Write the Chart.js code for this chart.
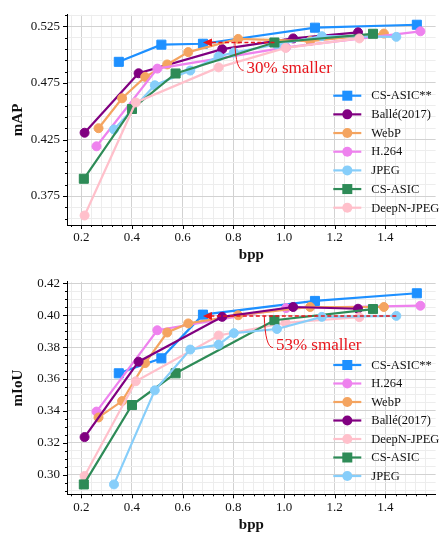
<!DOCTYPE html>
<html><head><meta charset="utf-8">
<script src="https://cdn.jsdelivr.net/npm/chart.js@4.4.0/dist/chart.umd.min.js"></script>
<style>
html,body{margin:0;padding:0;background:#fff;}
canvas{display:block;}
</style></head><body>
<canvas id="c1" width="443" height="267"></canvas>
<canvas id="c2" width="443" height="267"></canvas>
<script>
// ---------- data ----------
const FONT = '"Liberation Serif", "DejaVu Serif", serif';

// shared bpp values
const bppCsAsicStar = [0.348, 0.516, 0.680, 1.122, 1.524];
const bppBalle      = [0.213, 0.426, 0.756, 1.036, 1.292];
const bppWebp       = [0.268, 0.361, 0.452, 0.539, 0.622, 0.819, 1.103, 1.394];
const bppH264       = [0.260, 0.500, 1.008, 1.538];
const bppJpeg       = [0.329, 0.490, 0.630, 0.742, 0.802, 0.972, 1.149, 1.443];
const bppCsAsic     = [0.210, 0.400, 0.572, 0.962, 1.351];
const bppDeepN      = [0.213, 0.415, 0.742, 1.006, 1.297];

// top panel: mAP
const mapCsAsicStar = [0.4937, 0.5089, 0.5097, 0.5239, 0.5265];
const mapBalle      = [0.4310, 0.4836, 0.5049, 0.5144, 0.5198];
const mapWebp       = [0.4350, 0.4615, 0.4804, 0.4914, 0.5023, 0.5140, 0.5121, 0.5187];
const mapH264       = [0.4190, 0.4877, 0.5065, 0.5207];
const mapJpeg       = [0.4339, 0.4730, 0.4860, 0.4985, 0.5020, 0.5090, 0.5164, 0.5158];
const mapCsAsic     = [0.3903, 0.4520, 0.4834, 0.5108, 0.5185];
const mapDeepN      = [0.3578, 0.4578, 0.4888, 0.5060, 0.5144];

// bottom panel: mIoU
const miouCsAsicStar = [0.3636, 0.3730, 0.4004, 0.4090, 0.4138];
const miouBalle      = [0.3236, 0.3709, 0.3990, 0.4052, 0.4041];
const miouWebp       = [0.3359, 0.3462, 0.3700, 0.3892, 0.3949, 0.4000, 0.4052, 0.4052];
const miouH264       = [0.3396, 0.3906, 0.4045, 0.4060];
const miouJpeg       = [0.2939, 0.3529, 0.3785, 0.3816, 0.3888, 0.3914, 0.3990, 0.3996];
const miouCsAsic     = [0.2939, 0.3437, 0.3636, 0.3969, 0.4039];
const miouDeepN      = [0.2992, 0.3586, 0.3873, 0.3953, 0.3988];

const names = {
  star: 'CS-ASIC**', balle: 'Ballé(2017)', webp: 'WebP', h264: 'H.264',
  jpeg: 'JPEG', csasic: 'CS-ASIC', deepn: 'DeepN-JPEG'
};
const colors = {
  star: '#1E90FF', balle: '#800080', webp: '#F4A460', h264: '#EE82EE',
  jpeg: '#87CEFA', csasic: '#2E8B57', deepn: '#FFC0CB'
};
const markers = { star: 'rect', csasic: 'rect' };

const topSeries = [
  ['star', bppCsAsicStar, mapCsAsicStar],
  ['balle', bppBalle, mapBalle],
  ['webp', bppWebp, mapWebp],
  ['h264', bppH264, mapH264],
  ['jpeg', bppJpeg, mapJpeg],
  ['csasic', bppCsAsic, mapCsAsic],
  ['deepn', bppDeepN, mapDeepN]
];
const bottomSeries = [
  ['star', bppCsAsicStar, miouCsAsicStar],
  ['h264', bppH264, miouH264],
  ['webp', bppWebp, miouWebp],
  ['balle', bppBalle, miouBalle],
  ['deepn', bppDeepN, miouDeepN],
  ['csasic', bppCsAsic, miouCsAsic],
  ['jpeg', bppJpeg, miouJpeg]
];

// ---------- helpers ----------
function makeDatasets(series) {
  const n = series.length;
  return series.map(([key, xs, ys], i) => {
    const rect = markers[key] === 'rect';
    return {
      label: names[key],
      data: xs.map((x, j) => ({x: x, y: ys[j]})),
      borderColor: colors[key],
      backgroundColor: colors[key],
      pointBackgroundColor: colors[key],
      pointBorderColor: colors[key],
      pointBorderWidth: 1,
      pointStyle: rect ? 'rect' : 'circle',
      pointRadius: rect ? 6.4 : 4.5,
      borderWidth: 2.2,
      tension: 0,
      order: n - i
    };
  });
}

function tickList(min, max, anchor, step) {
  const out = [];
  const k0 = Math.ceil((min - anchor) / step - 1e-9);
  for (let k = k0; anchor + k * step <= max + 1e-9; k++) {
    out.push(+(anchor + k * step).toFixed(6));
  }
  return out;
}
function isMajor(v, anchor, step) {
  const r = (v - anchor) / step;
  return Math.abs(r - Math.round(r)) < 1e-6;
}

const tickPlugin = {
  id: 'mplTicks',
  afterDraw(chart, args, opts) {
    const ctx = chart.ctx;
    ctx.save();
    ctx.strokeStyle = '#000';
    ctx.lineWidth = 1;
    const xs = chart.scales.x, ys = chart.scales.y;
    const ca = chart.chartArea;
    xs.ticks.forEach(t => {
      const p = Math.round(xs.getPixelForValue(t.value)) + 0.5;
      const len = isMajor(t.value, opts.xAnchor, opts.xMajor) ? 4 : 2;
      ctx.beginPath(); ctx.moveTo(p, ca.bottom); ctx.lineTo(p, ca.bottom + len); ctx.stroke();
    });
    ys.ticks.forEach(t => {
      const p = Math.round(ys.getPixelForValue(t.value)) + 0.5;
      const len = isMajor(t.value, opts.yAnchor, opts.yMajor) ? 4 : 2;
      ctx.beginPath(); ctx.moveTo(ca.left, p); ctx.lineTo(ca.left - len, p); ctx.stroke();
    });
    ctx.restore();
  }
};

const annotPlugin = {
  id: 'arrowNote',
  afterDatasetsDraw(chart, args, o) {
    const {ctx, scales: {x, y}} = chart;
    const x0 = x.getPixelForValue(o.fromX);
    const x1 = x.getPixelForValue(o.toX);
    const yy = y.getPixelForValue(o.atY);
    ctx.save();
    ctx.strokeStyle = '#e8141b';
    ctx.fillStyle = '#e8141b';
    ctx.lineWidth = 1.5;
    ctx.setLineDash([4, 2.5]);
    ctx.beginPath(); ctx.moveTo(x0, yy); ctx.lineTo(x1 + 8, yy); ctx.stroke();
    ctx.setLineDash([]);
    ctx.beginPath(); ctx.moveTo(x1, yy); ctx.lineTo(x1 + 9, yy - 4); ctx.lineTo(x1 + 9, yy + 4); ctx.closePath(); ctx.fill();
    const cx = x.getPixelForValue(o.curveX);
    const tx = x.getPixelForValue(o.textX);
    const ty = y.getPixelForValue(o.textY);
    ctx.lineWidth = 1;
    ctx.beginPath(); ctx.moveTo(cx, yy); ctx.quadraticCurveTo(cx + 1, ty + 2, tx - 3, ty + 2); ctx.stroke();
    ctx.font = '17px ' + FONT;
    ctx.textBaseline = 'middle';
    ctx.textAlign = 'left';
    ctx.fillText(o.text, tx, ty);
    ctx.restore();
  }
};

const legendPlugin = {
  id: 'mplLegend',
  afterDraw(chart, args, o) {
    const ctx = chart.ctx;
    ctx.save();
    chart.data.datasets.forEach((ds, i) => {
      const yy = o.top + i * o.spacing;
      ctx.strokeStyle = ds.borderColor;
      ctx.fillStyle = ds.borderColor;
      ctx.lineWidth = 2.2;
      ctx.beginPath(); ctx.moveTo(o.left, yy); ctx.lineTo(o.left + 28, yy); ctx.stroke();
      const mx = o.left + 14;
      if (ds.pointStyle === 'rect') {
        ctx.fillRect(mx - 5, yy - 5, 10, 10);
      } else {
        ctx.beginPath(); ctx.arc(mx, yy, 5, 0, Math.PI * 2); ctx.fill();
      }
      ctx.fillStyle = '#111';
      ctx.font = '12.5px ' + FONT;
      ctx.textBaseline = 'middle';
      ctx.textAlign = 'left';
      ctx.fillText(ds.label, o.left + 38, yy + 0.5);
    });
    ctx.restore();
  }
};

function makeChart(id, series, cfg) {
  const xMin = 0.1436, xMax = 1.598;
  return new Chart(document.getElementById(id), {
    type: 'line',
    data: { datasets: makeDatasets(series) },
    plugins: [tickPlugin, annotPlugin, legendPlugin],
    options: {
      responsive: false,
      animation: false,
      events: [],
      layout: { padding: { top: cfg.padTop, right: 0, left: 0, bottom: 0 } },
      plugins: {
        legend: { display: false },
        tooltip: { enabled: false },
        mplTicks: { xAnchor: 0.2, xMajor: 0.2, yAnchor: cfg.yAnchor, yMajor: cfg.yMajor },
        arrowNote: cfg.note,
        mplLegend: cfg.legend
      },
      scales: {
        x: {
          type: 'linear', min: xMin, max: xMax,
          afterBuildTicks: s => { s.ticks = tickList(xMin, xMax, 0.2, 0.04).map(v => ({value: v})); },
          afterFit: s => { s.height = cfg.xHeight; },
          ticks: {
            autoSkip: false, maxRotation: 0, padding: 5, color: '#111',
            font: { family: FONT, size: 13 },
            callback: v => isMajor(v, 0.2, 0.2) ? v.toFixed(1) : ''
          },
          grid: {
            drawTicks: false,
            color: c => (c.tick && isMajor(c.tick.value, 0.2, 0.2)) ? '#d2d2d2' : '#ededed',
            lineWidth: 1
          },
          border: { display: true, color: '#000', width: 1 },
          title: { display: true, text: 'bpp', color: '#111',
            font: { family: FONT, size: 15, weight: 'bold' }, padding: { top: 0, bottom: cfg.xTitlePad } }
        },
        y: {
          type: 'linear', min: cfg.yMin, max: cfg.yMax,
          afterBuildTicks: s => { s.ticks = tickList(cfg.yMin, cfg.yMax, cfg.yAnchor, cfg.yMinor).map(v => ({value: v})); },
          afterFit: s => { s.width = 67; },
          ticks: {
            autoSkip: false, padding: 7, color: '#111',
            font: { family: FONT, size: 13 },
            callback: v => isMajor(v, cfg.yAnchor, cfg.yMajor) ? v.toFixed(cfg.yDigits) : ''
          },
          grid: {
            drawTicks: false,
            color: c => (c.tick && isMajor(c.tick.value, cfg.yAnchor, cfg.yMajor)) ? '#d2d2d2' : '#ededed',
            lineWidth: 1
          },
          border: { display: true, color: '#000', width: 1 },
          title: { display: true, text: cfg.yTitle, color: '#111',
            font: { family: FONT, size: 15, weight: 'bold' }, padding: { top: 9, bottom: 0 } }
        }
      }
    }
  });
}

makeChart('c1', topSeries, {
  padTop: 9, xHeight: 42, xTitlePad: 3,
  yMin: 0.3494, yMax: 0.5353, yAnchor: 0.375, yMajor: 0.05, yMinor: 0.01, yDigits: 3,
  yTitle: 'mAP',
  note: { fromX: bppCsAsic[3], toX: bppCsAsicStar[2], atY: mapCsAsic[3],
          curveX: 0.806, textX: 0.852, textY: 0.4879, text: '30% smaller' },
  legend: { left: 333.3, top: 95.7, spacing: 18.67 }
});

makeChart('c2', bottomSeries, {
  padTop: 10.3, xHeight: 39.7, xTitlePad: 0,
  yMin: 0.2877, yMax: 0.4210, yAnchor: 0.30, yMajor: 0.02, yMinor: 0.005, yDigits: 2,
  yTitle: 'mIoU',
  note: { fromX: bppJpeg[7], toX: bppCsAsicStar[2], atY: miouJpeg[7],
          curveX: 0.922, textX: 0.968, textY: 0.381, text: '53% smaller' },
  legend: { left: 333.3, top: 98, spacing: 18.5 }
});
</script>
</body></html>
